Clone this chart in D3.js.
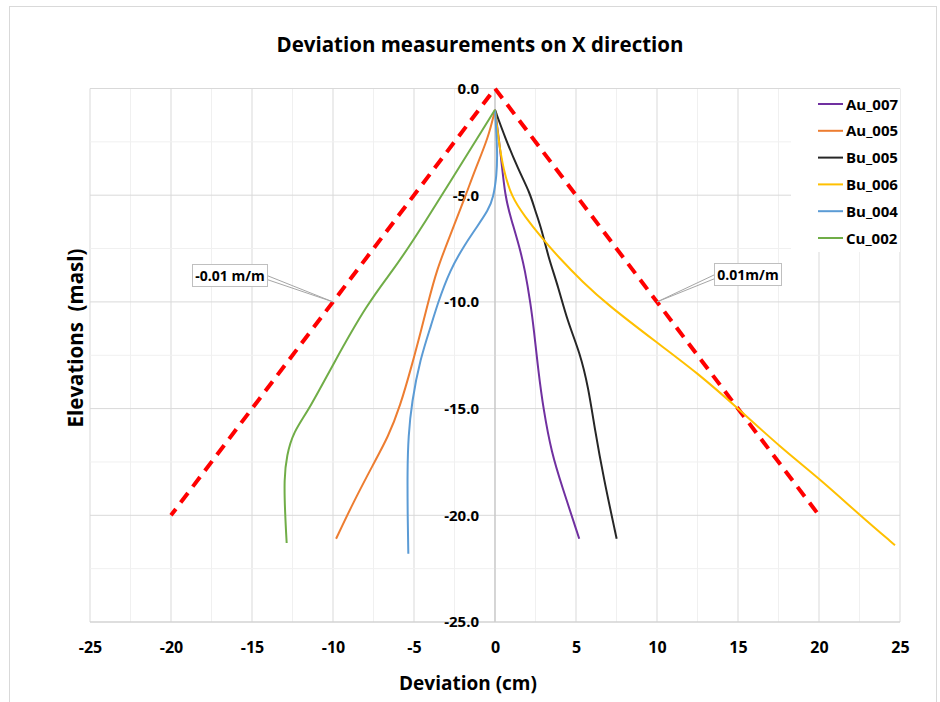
<!DOCTYPE html>
<html>
<head>
<meta charset="utf-8">
<script src="https://cdn.jsdelivr.net/npm/d3@7"></script>
<style>
  body { margin: 0; background: #fff; }
  text { font-family: "Open Sans", "Noto Sans", sans-serif; font-weight: bold; }
</style>
</head>
<body>
<svg id="chart"></svg>
<script>
// axis ticks
const xTicks = [-25, -20, -15, -10, -5, 0, 5, 10, 15, 20, 25];
const yTicks = [0, -5, -10, -15, -20, -25];

// deviation (cm) against elevation (m), one pair of arrays per borehole
const au007Elev = [-1, -3.0, -5.1, -6.2, -7.4, -8.5, -10.1, -11.3, -13.2, -15.0, -17.1, -18.6, -21.1];
const au007Dev  = [0, 0.35, 0.62, 1.03, 1.5, 1.85, 2.2, 2.4, 2.67, 2.98, 3.5, 4.12, 5.2];

const au005Elev = [-1, -2.3, -3.8, -5.1, -6.9, -8.5, -10.1, -11.3, -13.0, -14.9, -16.3, -17.6, -19.4, -21.1];
const au005Dev  = [0, -0.41, -1.23, -1.85, -2.78, -3.6, -4.15, -4.55, -5.14, -5.86, -6.58, -7.51, -8.75, -9.81];

const bu005Elev = [-1, -2.3, -3.8, -4.9, -5.7, -6.6, -7.9, -9.3, -10.9, -12.4, -14.0, -16.0, -18.2, -21.1];
const bu005Dev  = [0, 0.62, 1.44, 2.16, 2.47, 2.88, 3.29, 3.91, 4.47, 5.25, 5.76, 6.17, 6.69, 7.51];

const bu006Elev = [-1, -2.3, -3.8, -5.1, -6.0, -6.9, -7.9, -9.1, -10.1, -11.9, -13.3, -15.0, -16.8, -18.3, -20.0, -21.4];
const bu006Dev  = [0, 0.2, 0.51, 1.03, 1.85, 2.78, 3.91, 5.45, 6.9, 9.98, 12.45, 15.02, 17.6, 20.06, 22.53, 24.69];

const bu004Elev = [-1, -3.0, -4.1, -5.1, -5.7, -6.5, -7.3, -8.5, -10.1, -11.0, -12.7, -14.7, -16.3, -17.9, -20.2, -21.8];
const bu004Dev  = [0, 0.16, 0.1, -0.1, -0.41, -1.13, -1.85, -2.78, -3.55, -3.9, -4.63, -5.14, -5.35, -5.41, -5.39, -5.35];

const cu002Elev = [-1, -6.9, -8.5, -10.1, -12.9, -15.1, -16.1, -17.2, -18.3, -19.9, -21.3];
const cu002Dev  = [0, -4.83, -6.28, -7.9, -9.98, -11.52, -12.45, -12.86, -13.02, -12.96, -12.86];

const seriesNames  = ["Au_007", "Au_005", "Bu_005", "Bu_006", "Bu_004", "Cu_002"];
const seriesColors = ["#7030A0", "#ED7D31", "#262626", "#FFC000", "#5B9BD5", "#70AD47"];
const seriesElev = [au007Elev, au005Elev, bu005Elev, bu006Elev, bu004Elev, cu002Elev];
const seriesDev  = [au007Dev, au005Dev, bu005Dev, bu006Dev, bu004Dev, cu002Dev];

// 0.01 m/m tolerance lines
const limitDev  = [-20, 0, 20];
const limitElev = [-20, 0, -20];

const width = 940, height = 702;
const svg = d3.select("#chart").attr("width", width).attr("height", height);

const x = d3.scaleLinear().domain([-25, 25]).range([90, 900]);
const y = d3.scaleLinear().domain([0, -25]).range([88.5, 622]);
const fmtHyphen = function (f) { return function (d) { return f(d).replace("\u2212", "-"); }; };

// outer chart border
svg.append("rect")
  .attr("x", 9.5).attr("y", 6.5).attr("width", 927).attr("height", 710)
  .attr("fill", "none").attr("stroke", "#d9d9d9");

// grid: major every 5, minor every 2.5
const g = svg.append("g");
d3.range(-25, 25.1, 2.5).forEach(function (v) {
  g.append("line").attr("x1", x(v)).attr("x2", x(v)).attr("y1", y(0)).attr("y2", y(-25))
    .attr("stroke", v % 5 === 0 ? "#d9d9d9" : "#f0f0f0").attr("stroke-width", 1);
});
d3.range(0, -25.1, -2.5).forEach(function (v) {
  g.append("line").attr("x1", x(-25)).attr("x2", x(25)).attr("y1", y(v)).attr("y2", y(v))
    .attr("stroke", v % 5 === 0 ? "#d9d9d9" : "#f0f0f0").attr("stroke-width", 1);
});

// vertical axis at x = 0 and horizontal axis at the bottom
svg.append("line").attr("x1", x(0)).attr("x2", x(0)).attr("y1", y(0)).attr("y2", y(-25))
  .attr("stroke", "#bfbfbf");
svg.append("line").attr("x1", x(-25)).attr("x2", x(25)).attr("y1", y(-25)).attr("y2", y(-25))
  .attr("stroke", "#d0d0d0");

// tick labels
const xAxis = svg.append("g").attr("transform", "translate(0," + y(-25) + ")")
  .call(d3.axisBottom(x).tickValues(xTicks).tickSize(0).tickPadding(20).tickFormat(fmtHyphen(d3.format("d"))));
xAxis.select(".domain").remove();
xAxis.selectAll("text").attr("font-size", 16).attr("fill", "#000")
  .style("font-family", "'Open Sans', sans-serif").style("font-weight", "bold");

const yAxis = svg.append("g").attr("transform", "translate(" + x(0) + ",0)")
  .call(d3.axisLeft(y).tickValues(yTicks).tickSize(0).tickPadding(16).tickFormat(fmtHyphen(d3.format(".1f"))));
yAxis.select(".domain").remove();
yAxis.selectAll("text").attr("font-size", 15).attr("fill", "#000")
  .style("font-family", "'Open Sans', sans-serif").style("font-weight", "bold");

// tolerance lines
const limitLine = d3.line().x(function (d, i) { return x(limitDev[i]); }).y(function (d, i) { return y(limitElev[i]); });
svg.append("path").datum(limitDev).attr("d", limitLine)
  .attr("fill", "none").attr("stroke", "#FF0000").attr("stroke-width", 4)
  .attr("stroke-dasharray", "12,8").attr("stroke-dashoffset", 4);

// series
const curve = d3.line().curve(d3.curveBasis);
seriesNames.forEach(function (name, i) {
  const pts = seriesDev[i].map(function (d, j) { return [x(d), y(seriesElev[i][j])]; });
  svg.append("path").attr("d", curve(pts))
    .attr("fill", "none").attr("stroke", seriesColors[i]).attr("stroke-width", 2);
});

// callouts
function callout(label, bx, by, bw, tipDev, tipElev, anchorX) {
  const tx = x(tipDev), ty = y(tipElev);
  svg.append("line").attr("x1", anchorX).attr("y1", by + 11).attr("x2", tx).attr("y2", ty)
    .attr("stroke", "#a6a6a6").attr("stroke-width", 1);
  svg.append("line").attr("x1", anchorX).attr("y1", by + 15).attr("x2", tx).attr("y2", ty)
    .attr("stroke", "#a6a6a6").attr("stroke-width", 1);
  svg.append("rect").attr("x", bx).attr("y", by).attr("width", bw).attr("height", 22)
    .attr("fill", "#fff").attr("stroke", "#bfbfbf");
  svg.append("text").attr("x", bx + bw / 2).attr("y", by + 16).attr("text-anchor", "middle")
    .attr("font-size", 14).text(label);
}
callout("-0.01 m/m", 192.5, 264.5, 75, -10, -10, 267);
callout("0.01m/m", 714.5, 263.5, 67, 10, -10, 715);

// legend
const lg = svg.append("g");
lg.append("rect").attr("x", 791).attr("y", 89).attr("width", 109).attr("height", 163).attr("fill", "#fff");
seriesNames.forEach(function (name, i) {
  const ly = 104 + i * 26.8;
  lg.append("line").attr("x1", 818).attr("x2", 843).attr("y1", ly).attr("y2", ly)
    .attr("stroke", seriesColors[i]).attr("stroke-width", 2);
  lg.append("text").attr("x", 846).attr("y", ly + 5.5).attr("font-size", 15).text(name);
});

// titles
svg.append("text").attr("x", 480).attr("y", 52).attr("text-anchor", "middle")
  .attr("font-size", 20.5).text("Deviation measurements on X direction");
svg.append("text").attr("x", 468).attr("y", 690).attr("text-anchor", "middle")
  .attr("font-size", 19).text("Deviation (cm)");
svg.append("text").attr("transform", "translate(83,338) rotate(-90)").attr("text-anchor", "middle")
  .attr("font-size", 20.5).attr("xml:space", "preserve").text("Elevations  (masl)");
</script>
</body>
</html>
